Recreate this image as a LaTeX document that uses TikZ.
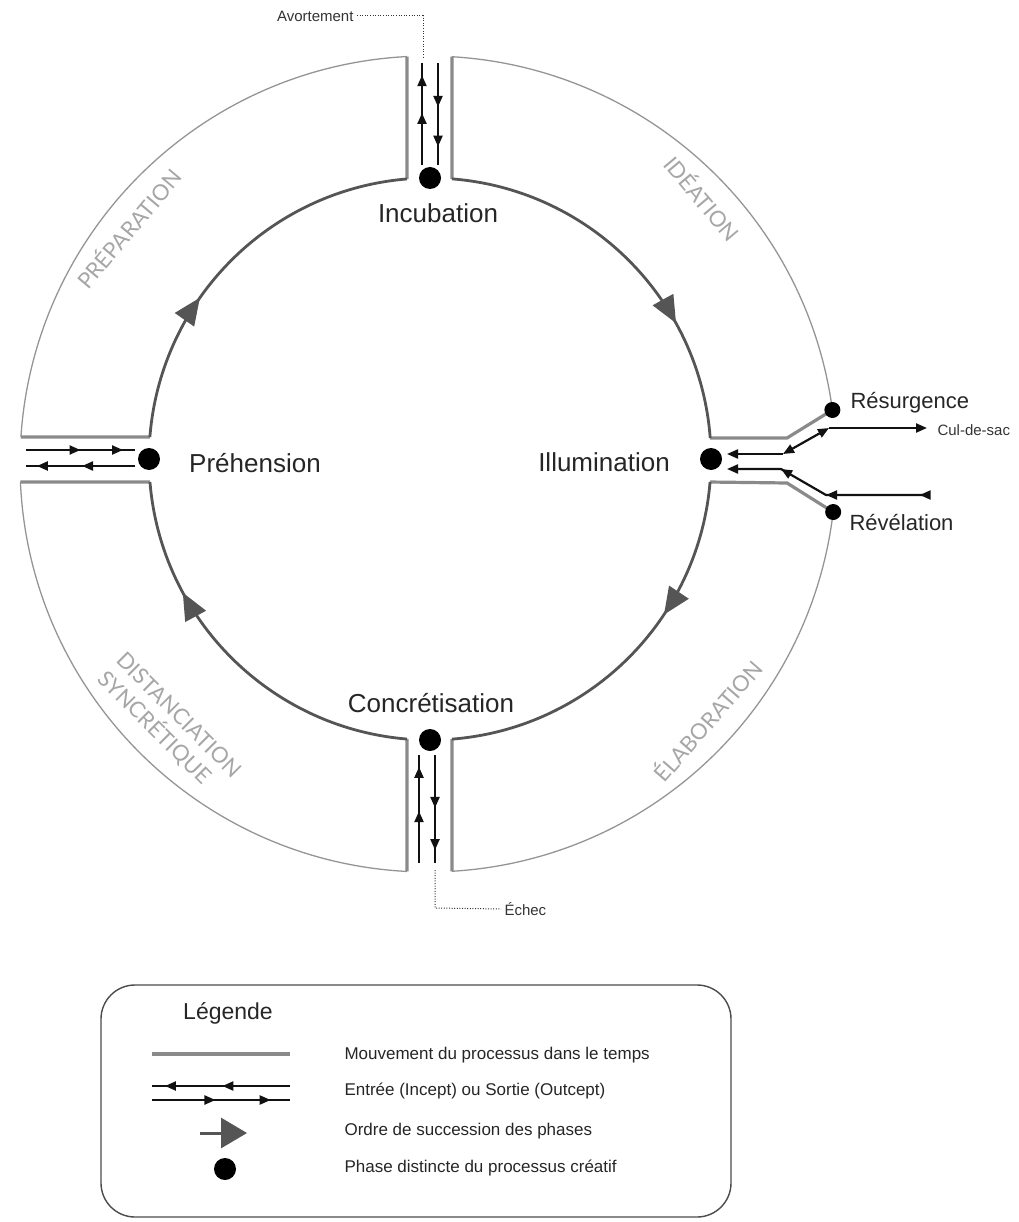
\documentclass[tikz,border=0pt]{standalone}
\usepackage{fontspec}
\setmainfont{Liberation Sans}
\newfontfamily\ringfont{Lato}
\usetikzlibrary{calc,arrows.meta,decorations.markings}
\definecolor{rimgray}{HTML}{959595}
\definecolor{edgegray}{HTML}{8A8A8A}
\definecolor{trackgray}{HTML}{555555}
\definecolor{ringtext}{HTML}{A6A6A6}
\definecolor{ink}{HTML}{111111}
\begin{document}
\begin{tikzpicture}[x=1pt,y=-1pt,
  iotip/.tip={Triangle[length=11pt,width=9pt]},
  rim/.style={draw=rimgray,line width=1.3pt},
  gapedge/.style={draw=edgegray,line width=3.2pt},
  track/.style={draw=trackgray,line width=2.8pt},
  io/.style={draw=ink,line width=2.2pt},
  ticks/.style 2 args={postaction={decorate,decoration={markings,
     mark=at position #1 with {\arrow{iotip}},
     mark=at position #2 with {\arrow{iotip}}}}},
  onetip/.style={postaction={decorate,decoration={markings,
     mark=at position #1 with {\arrow{iotip}}}}},
  flow/.style={postaction={decorate,decoration={markings,
     mark=at position #1 with {\arrow{Triangle[length=27pt,width=23pt]}}}}},
  dot/.style={circle,fill=black,inner sep=0pt,minimum size=22pt},
  smalldot/.style={circle,fill=black,inner sep=0pt,minimum size=16pt},
  phase/.style={font=\fontsize{26}{30}\selectfont,text=black!85},
  side/.style={font=\fontsize{22}{26}\selectfont,text=black!85,anchor=west},
  note/.style={font=\fontsize{15}{18}\selectfont,text=black!80},
  ring/.style={font=\ringfont\fontsize{22}{26}\selectfont,text=ringtext},
  trail/.style={draw=black!80,line width=1pt,dash pattern=on 1pt off 1.6pt},
  legtext/.style={font=\fontsize{17}{20}\selectfont,text=black!85,anchor=west},
]
\useasboundingbox (0,0) rectangle (1018,1222);

% centres of the track circle and of the outer rim
\coordinate (C) at (430,459);
\coordinate (O) at (428,464);
\coordinate (resP) at ($(O)+(352.39:408)$);
\coordinate (revP) at ($(O)+(6.76:408)$);

% outer rims of the four segments
\draw[rim] ($(O)+(183.79:408)$) arc[start angle=183.79,end angle=267.05,radius=408];
\draw[rim] ($(O)+(273.37:408)$) arc[start angle=273.37,end angle=352.39,radius=408];
\draw[rim] ($(O)+(6.76:408)$) arc[start angle=6.76,end angle=86.63,radius=408];
\draw[rim] ($(O)+(92.95:408)$) arc[start angle=92.95,end angle=177.47,radius=408];

% straight edges along the four openings
\draw[gapedge] ($(C)+(265.30:281)$) -- ($(O)+(267.05:408)$);
\draw[gapedge] ($(C)+(274.49:281)$) -- ($(O)+(273.37:408)$);
\draw[gapedge] ($(C)+(94.70:281)$) -- ($(O)+(92.95:408)$);
\draw[gapedge] ($(C)+(85.51:281)$) -- ($(O)+(86.63:408)$);
\draw[gapedge] ($(C)+(184.49:281)$) -- ($(O)+(183.79:408)$);
\draw[gapedge] ($(C)+(175.30:281)$) -- ($(O)+(177.47:408)$);
\draw[gapedge] ($(C)+(355.71:281)$) -- (787,438) -- (resP);
\draw[gapedge] ($(C)+(4.70:281)$) -- (787,483) -- (revP);

% the cycle, clockwise
\draw[track,flow=0.378] ($(C)+(184.49:281)$) arc[start angle=184.49,end angle=265.30,radius=281];
\draw[track,flow=0.697] ($(C)+(274.49:281)$) arc[start angle=274.49,end angle=355.71,radius=281];
\draw[track,flow=0.358] ($(C)+(4.70:281)$) arc[start angle=4.70,end angle=85.51,radius=281];
\draw[track,flow=0.706] ($(C)+(94.70:281)$) arc[start angle=94.70,end angle=175.30,radius=281];

% segment names
\node[ring,rotate=50] at (128,228) {PRÉPARATION};
\node[ring,rotate=-50] at (703,198) {IDÉATION};
\node[ring,rotate=49] at (707,720) {ÉLABORATION};
\node[ring,rotate=-45,align=left] at (169,725) {DISTANCIATION\\SYNCRÉTIQUE};

% inputs and outputs through the openings
\draw[io,ticks={0.51}{0.88}] (422,165) -- (422,63);
\draw[io,ticks={0.43}{0.82}] (438,63) -- (438,165);
\draw[io,ticks={0.48}{0.89}] (419,863) -- (419,755);
\draw[io,ticks={0.49}{0.88}] (435,755) -- (435,863);
\draw[io,ticks={0.5}{0.89}] (26,450) -- (135,450);
\draw[io,ticks={0.486}{0.9}] (135,466) -- (26,466);

% branches at Illumination
\draw[io,iotip-] (727,454) -- (783,454);
\draw[io,iotip-iotip] (783,454) -- (829,428);
\draw[io,-iotip] (829,428) -- (927,428);
\draw[io,ticks={0.04}{0.49},onetip=0.74,-iotip] (928,495) -- (826,495) -- (781,469) -- (727,469);

% phases
\node[dot] (incub) at ($(C)+(270:281)$) {};
\node[dot] (concr) at ($(C)+(90:281)$) {};
\node[dot] (prehe) at ($(C)+(180:281)$) {};
\node[dot] (illum) at ($(C)+(0:281)$) {};
\node[smalldot] (res) at (resP) {};
\node[smalldot] (rev) at (revP) {};

\node[phase] (incubL) at (438,213) {Incubation};
\node[phase] (preheL) at (255,463) {Préhension};
\node[phase] (illumL) at (604,462) {Illumination};
\node[phase] (concrL) at (431,703) {Concrétisation};
\node[side] (resL) at (847,403) {Résurgence};
\node[side] (revL) at (846,523) {Révélation};
\node[note,anchor=west] (cul) at (934,430) {Cul-de-sac};

% dead ends
\node[note,anchor=east] (avort) at (357,16) {Avortement};
\draw[trail] (avort.east) -- (423,16) -- (423,57);
\node[note,anchor=west] (echec) at (501,909) {Échec};
\draw[trail] (435,870) -- (435,908) -- (echec.west);

% legend
\draw[draw=black!70,line width=1.4pt,rounded corners=34pt] (101,985) rectangle (731,1217);
\node[font=\fontsize{23}{27}\selectfont,text=black!85] (legT) at (228,1013) {Légende};
\draw[gapedge,line width=4pt] (152,1054) -- (290,1054);
\draw[io,ticks={0.49}{0.906}] (290,1086) -- (152,1086);
\draw[io,ticks={0.46}{0.86}] (152,1100) -- (290,1100);
\draw[draw=trackgray,line width=3pt,-{Triangle[length=26pt,width=30pt]}] (200,1133) -- (247,1133);
\node[dot] (legdot) at (225,1169) {};
\node[legtext] at (341,1055) {Mouvement du processus dans le temps};
\node[legtext] at (341,1091) {Entrée (Incept) ou Sortie (Outcept)};
\node[legtext] at (341,1131) {Ordre de succession des phases};
\node[legtext] at (341,1168) {Phase distincte du processus créatif};
\end{tikzpicture}
\end{document}
